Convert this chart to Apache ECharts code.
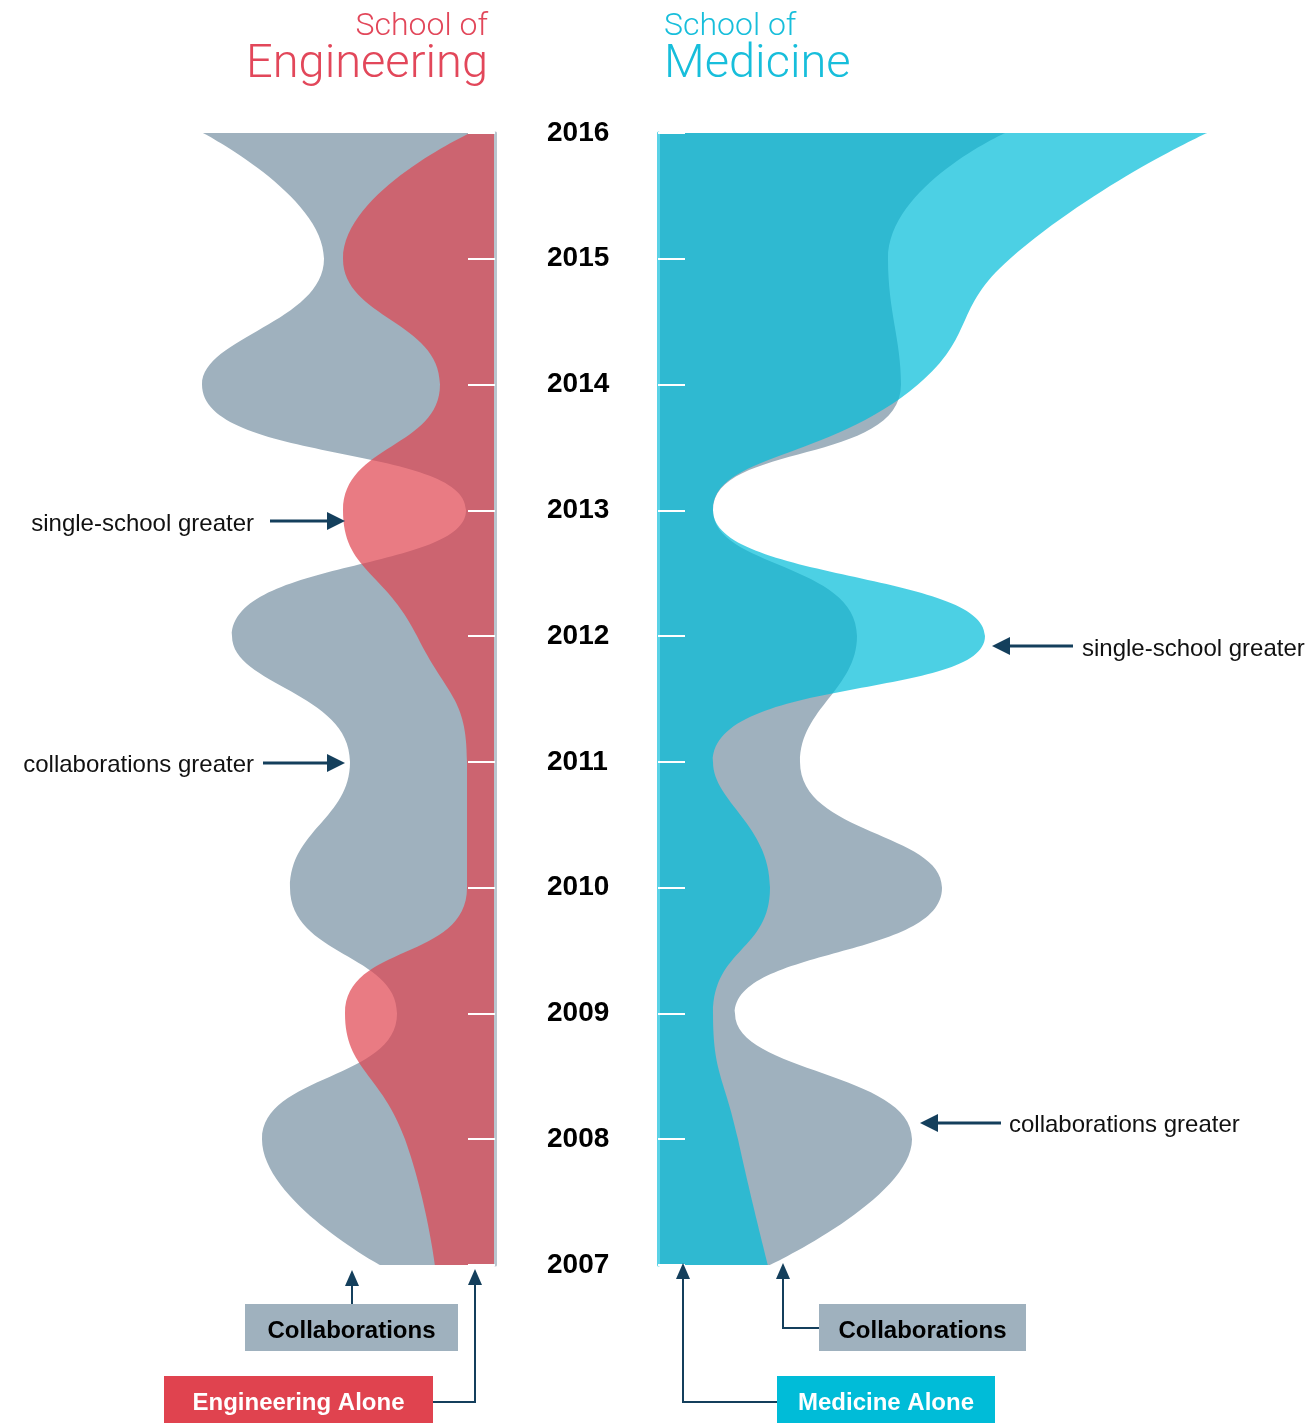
<!DOCTYPE html>
<html>
<head>
<meta charset="utf-8">
<script src="https://cdn.jsdelivr.net/npm/echarts@6/dist/echarts.min.js"></script>
<style>
html,body{margin:0;padding:0;background:#fff;}
#chart{width:1313px;height:1423px;}
</style>
</head>
<body>
<div id="chart"></div>
<script>
// ---- data (bottom to top) ----
const years = ['2007','2008','2009','2010','2011','2012','2013','2014','2015','2016'];
const engCollaborations = [115, 233, 98, 205, 145, 263, 29, 293, 171, 292];
const engAlone          = [60, 90, 150, 28, 28, 78, 152, 55, 152, 25];
const medCollaborations = [112, 254, 77, 284, 142, 199, 55, 243, 230, 347];
const medAlone          = [110, 80, 55, 112, 55, 327, 55, 260, 352, 549];

const FONT = '"Liberation Sans", Arial, Helvetica, sans-serif';
const LIGHT = 'Roboto, "Liberation Sans", sans-serif';
const GRAY = '#9fb1be';
const RED = '#e0434f';
const CYAN = '#00bcd8';
const NAVY = '#143f5c';

const chart = echarts.init(document.getElementById('chart'));

function areaSeries(name, data, color, opacity, gi) {
  return {
    name: name, type: 'line', data: data, xAxisIndex: gi, yAxisIndex: gi,
    smooth: 0.5, symbol: 'none', silent: true,
    lineStyle: {width: 0},
    areaStyle: {color: color, opacity: opacity}
  };
}

function arrowH(x1, x2, y, dir) { // line from x1 to tip x2
  const base = x2 - dir * 18;
  return [
    {type:'line', shape:{x1:x1, y1:y, x2:base, y2:y}, style:{stroke:NAVY, lineWidth:3}, z:50},
    {type:'polygon', shape:{points:[[x2,y],[base,y-9],[base,y+9]]}, style:{fill:NAVY}, z:50}
  ];
}
function arrowUpHead(x, tipY) {
  return {type:'polygon', shape:{points:[[x,tipY],[x-7,tipY+16],[x+7,tipY+16]]}, style:{fill:NAVY}, z:50};
}
function txt(t, x, y, align, size, color, weight, family) {
  return {type:'text', x:x, y:y, z:60, style:{text:t, textAlign:align, textVerticalAlign:'middle',
    fontSize:size, fontWeight:weight||'normal', fontFamily:family||FONT, fill:color}};
}
function box(x, y, w, h, fill, label, color) {
  return [
    {type:'rect', shape:{x:x, y:y, width:w, height:h}, style:{fill:fill}, z:40},
    txt(label, x + w/2, y + h/2 + 4, 'center', 24, color, 'bold')
  ];
}

const graphics = [].concat(
  [
    txt('School of', 488, 27, 'right', 32, '#e2475a', 300, LIGHT),
    txt('Engineering', 488, 65, 'right', 47, '#e2475a', 300, LIGHT),
    txt('School of', 664, 27, 'left', 32, '#17bedb', 300, LIGHT),
    txt('Medicine', 664, 65, 'left', 47, '#17bedb', 300, LIGHT),
    txt('single-school greater', 254, 524, 'right', 24, '#111'),
    txt('collaborations greater', 254, 765, 'right', 24, '#111'),
    txt('single-school greater', 1082, 649, 'left', 24, '#111'),
    txt('collaborations greater', 1009, 1125, 'left', 24, '#111')
  ],
  arrowH(270, 345, 521, 1),
  arrowH(263, 345, 763, 1),
  arrowH(1073, 992, 646, -1),
  arrowH(1001, 920, 1123, -1),
  box(245, 1304, 213, 47, GRAY, 'Collaborations', '#000'),
  box(164, 1376, 269, 47, RED, 'Engineering Alone', '#fff'),
  box(819, 1304, 207, 47, GRAY, 'Collaborations', '#000'),
  box(777, 1376, 218, 47, CYAN, 'Medicine Alone', '#fff'),
  [
    {type:'polyline', shape:{points:[[352,1304],[352,1284]]}, style:{stroke:NAVY, lineWidth:2, fill:null}, z:50},
    arrowUpHead(352, 1270),
    {type:'polyline', shape:{points:[[433,1402],[475,1402],[475,1284]]}, style:{stroke:NAVY, lineWidth:2, fill:null}, z:50},
    arrowUpHead(475, 1269),
    {type:'polyline', shape:{points:[[819,1328],[783,1328],[783,1278]]}, style:{stroke:NAVY, lineWidth:2, fill:null}, z:50},
    arrowUpHead(783, 1263),
    {type:'polyline', shape:{points:[[777,1402],[683,1402],[683,1278]]}, style:{stroke:NAVY, lineWidth:2, fill:null}, z:50},
    arrowUpHead(683, 1263)
  ]
);

const yBase = {
  type: 'category', data: years, boundaryGap: false, z: 10,
  axisTick: {show: true, inside: true, length: 27, lineStyle: {color: '#fff', width: 2}},
  splitLine: {show: false}
};

chart.setOption({
  animation: false,
  backgroundColor: '#fff',
  grid: [
    {left: 195, width: 300, top: 133, bottom: 158},
    {left: 658, width: 600, top: 133, bottom: 158}
  ],
  xAxis: [
    {gridIndex: 0, type: 'value', min: 0, max: 300, inverse: true, show: false},
    {gridIndex: 1, type: 'value', min: 0, max: 600, show: false}
  ],
  yAxis: [
    Object.assign({}, yBase, {
      gridIndex: 0, position: 'right',
      axisLine: {show: true, onZero: false, lineStyle: {color: '#b9c5ce', width: 3}},
      axisLabel: {show: true, margin: 52, fontSize: 28, fontWeight: 'bold', color: '#000', fontFamily: FONT, padding: [4, 0, 0, 0]}
    }),
    Object.assign({}, yBase, {
      gridIndex: 1, position: 'left',
      axisLine: {show: true, onZero: false, lineStyle: {color: '#5ad2e6', width: 3}},
      axisLabel: {show: false}
    })
  ],
  series: [
    areaSeries('Collaborations', engCollaborations, GRAY, 1, 0),
    areaSeries('Engineering Alone', engAlone, RED, 0.7, 0),
    areaSeries('Collaborations', medCollaborations, GRAY, 1, 1),
    areaSeries('Medicine Alone', medAlone, CYAN, 0.7, 1)
  ],
  graphic: graphics
});
</script>
</body>
</html>
